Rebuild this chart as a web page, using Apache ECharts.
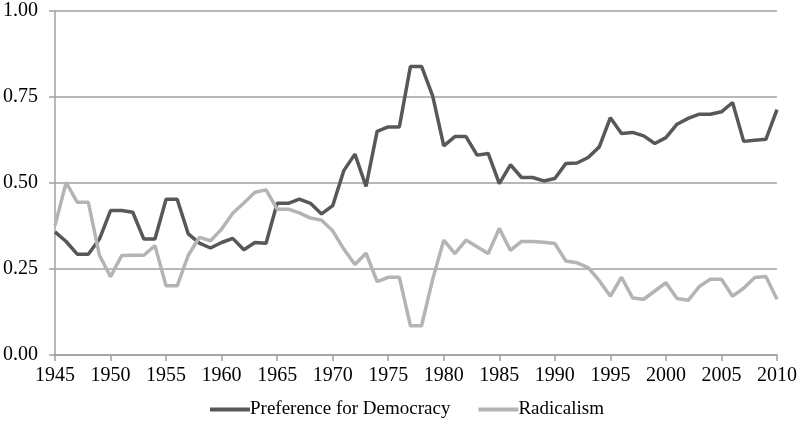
<!DOCTYPE html>
<html>
<head>
<meta charset="utf-8">
<script src="https://cdn.jsdelivr.net/npm/echarts@6/dist/echarts.min.js"></script>
<style>
  html, body { margin: 0; padding: 0; background: #fff; }
  #chart { width: 801px; height: 432px; }
</style>
</head>
<body>
<div id="chart"></div>
<script>
// years 1945 - 2010
let years = [];
for (let y = 1945; y <= 2010; y++) years.push(String(y));

let democracy = [
  0.358, 0.33, 0.293, 0.293, 0.337, 0.42, 0.42, 0.415, 0.337, 0.337,
  0.453, 0.453, 0.352, 0.325, 0.311, 0.327, 0.339, 0.306, 0.327, 0.325,
  0.441, 0.441, 0.453, 0.441, 0.41, 0.434, 0.536, 0.584, 0.49, 0.65,
  0.663, 0.663, 0.839, 0.839, 0.753, 0.608, 0.635, 0.635, 0.581, 0.586,
  0.498, 0.553, 0.516, 0.516, 0.506, 0.513, 0.557, 0.558, 0.574, 0.605,
  0.69, 0.644, 0.647, 0.637, 0.615, 0.632, 0.671, 0.688, 0.70, 0.70,
  0.707, 0.734, 0.621, 0.624, 0.627, 0.713
];
let radicalism = [
  0.376, 0.502, 0.444, 0.444, 0.29, 0.228, 0.289, 0.29, 0.29, 0.318,
  0.201, 0.201, 0.29, 0.342, 0.332, 0.366, 0.412, 0.442, 0.473, 0.48,
  0.424, 0.424, 0.413, 0.398, 0.392, 0.361, 0.308, 0.263, 0.296, 0.213,
  0.226, 0.226, 0.085, 0.085, 0.22, 0.334, 0.295, 0.334, 0.315, 0.295,
  0.368, 0.304, 0.33, 0.33, 0.328, 0.324, 0.273, 0.268, 0.254, 0.216,
  0.171, 0.226, 0.166, 0.162, 0.186, 0.21, 0.164, 0.159, 0.199, 0.22,
  0.22, 0.171, 0.194, 0.225, 0.228, 0.162
];

let font = "'Liberation Serif', 'DejaVu Serif', serif";
let axisGray = '#a0a0a0';

let myChart = echarts.init(document.getElementById('chart'));
myChart.setOption({
  animation: false,
  grid: { left: 55, right: 24, top: 11, bottom: 77 },
  legend: {
    bottom: 8,
    left: 205,
    itemGap: 28,
    itemWidth: 40,
    itemHeight: 4,
    icon: 'rect',
    textStyle: { fontFamily: font, fontSize: 19, color: '#000', padding: [0, 0, 0, -5] },
    data: ['Preference for Democracy', 'Radicalism']
  },
  xAxis: {
    type: 'category',
    data: years,
    boundaryGap: false,
    axisLine: { lineStyle: { color: axisGray, width: 1.5 } },
    axisTick: { interval: 4, length: 6, lineStyle: { color: axisGray, width: 1.5 } },
    axisLabel: { interval: 4, fontFamily: font, fontSize: 20, color: '#000', margin: 11 }
  },
  yAxis: {
    type: 'value',
    min: 0,
    max: 1,
    interval: 0.25,
    axisLine: { show: true, lineStyle: { color: axisGray, width: 1.5 } },
    axisTick: { show: true, length: 6, lineStyle: { color: axisGray, width: 1.5 } },
    splitLine: { lineStyle: { color: axisGray, width: 1.5 } },
    axisLabel: {
      fontFamily: font, fontSize: 20, color: '#000', margin: 17,
      formatter: v => v.toFixed(2)
    }
  },
  series: [
    {
      name: 'Preference for Democracy',
      type: 'line',
      data: democracy,
      symbol: 'none',
      color: '#585858',
      lineStyle: { width: 3.5, color: '#585858' }
    },
    {
      name: 'Radicalism',
      type: 'line',
      data: radicalism,
      symbol: 'none',
      color: '#b4b4b4',
      lineStyle: { width: 3.5, color: '#b4b4b4' }
    }
  ]
});
</script>
</body>
</html>
